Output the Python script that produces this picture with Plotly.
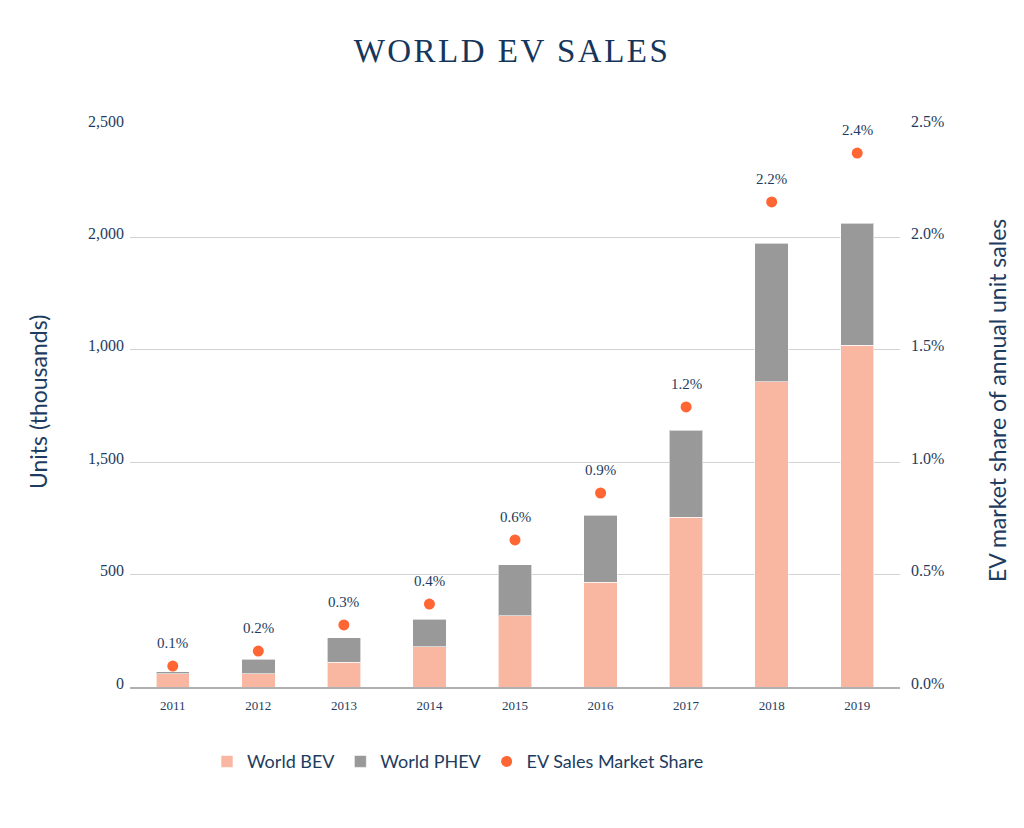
import plotly.graph_objects as go

years = ["2011", "2012", "2013", "2014", "2015", "2016", "2017", "2018", "2019"]
bev = [58, 58, 111, 178, 316, 467, 756, 1357, 1521]
phev = [9, 66, 107, 124, 227, 298, 387, 618, 543]
share = [0.093, 0.16, 0.276, 0.369, 0.654, 0.863, 1.246, 2.158, 2.375]
share_labels = ["0.1%", "0.2%", "0.3%", "0.4%", "0.6%", "0.9%", "1.2%", "2.2%", "2.4%"]

left_tickvals = [0, 500, 1000, 1500, 2000, 2500]
left_ticktext = ["0", "500", "1,500", "1,000", "2,000", "2,500"]
right_tickvals = [0, 0.5, 1.0, 1.5, 2.0, 2.5]
right_ticktext = ["0.0%", "0.5%", "1.0%", "1.5%", "2.0%", "2.5%"]

NAVY = "#1d3c60"
SERIF = "Liberation Serif, Times New Roman, serif"
SANS = "Lato, Open Sans, sans-serif"

fig = go.Figure()
fig.add_trace(go.Bar(
    x=years, y=bev, name="World BEV",
    marker=dict(color="#f9b6a1", line=dict(color="rgba(255,255,255,0.6)", width=1)),
))
fig.add_trace(go.Bar(
    x=years, y=phev, name="World PHEV",
    marker=dict(color="#999999", line=dict(color="rgba(255,255,255,0.6)", width=1)),
))
fig.add_trace(go.Scatter(
    x=years, y=share, name="EV Sales Market Share", yaxis="y2",
    mode="markers", marker=dict(color="#ff6633", size=11),
    cliponaxis=False,
))

annotations = []
for i, (s, lab) in enumerate(zip(share, share_labels)):
    annotations.append(dict(
        x=i, y=s, xref="x", yref="y2", text=lab, showarrow=False,
        yshift=23, font=dict(family=SERIF, size=15, color=NAVY),
    ))

annotations.append(dict(
    x=-0.1195, y=0.507, xref="paper", yref="paper", text="Units (thousands)",
    textangle=-90, showarrow=False, xanchor="center", yanchor="middle",
    font=dict(family=SANS, size=23, color=NAVY),
))
annotations.append(dict(
    x=1.126, y=0.509, xref="paper", yref="paper", text="EV market share of annual unit sales",
    textangle=-90, showarrow=False, xanchor="center", yanchor="middle",
    font=dict(family=SANS, size=23, color=NAVY),
))

fig.update_layout(
    width=1024, height=828,
    margin=dict(l=130, r=124, t=125, b=141),
    paper_bgcolor="white", plot_bgcolor="white",
    barmode="stack", bargap=0.61,
    title=dict(
        text="WORLD EV SALES", x=0.5, xanchor="center",
        y=1 - 50 / 828, yref="container", yanchor="middle",
        font=dict(family=SERIF, size=33, color="#15365a"),
    ),
    xaxis=dict(
        type="category", range=[-0.5, len(years) - 0.5],
        showgrid=False, showline=True, linecolor="#b0b0b0", linewidth=1.5,
        ticks="outside", ticklen=6, tickcolor="rgba(0,0,0,0)",
        tickfont=dict(family=SERIF, size=13, color=NAVY),
    ),
    yaxis=dict(
        range=[0, 2500], tickvals=left_tickvals, ticktext=left_ticktext,
        showgrid=True, gridcolor="#d2d2d2", gridwidth=1, zeroline=False,
        tickfont=dict(family=SERIF, size=16, color=NAVY),
        ticklabelstandoff=5, ticklabelshift=-4,
    ),
    yaxis2=dict(
        range=[0, 2.5], tickvals=right_tickvals, ticktext=right_ticktext,
        overlaying="y", side="right", showgrid=False, zeroline=False,
        tickfont=dict(family=SERIF, size=16, color=NAVY),
        ticklabelstandoff=10, ticklabelshift=-4,
    ),
    legend=dict(
        orientation="h", x=0.1, xanchor="left", y=-0.1, yanchor="top",
        font=dict(family=SANS, size=18, color=NAVY), traceorder="normal",
    ),
    annotations=annotations,
    showlegend=True,
)

post = """
document.querySelectorAll('.gtitle').forEach(function(e){e.style.letterSpacing='2.5px';});
"""
fig.write_html("out.html", post_script=post)
